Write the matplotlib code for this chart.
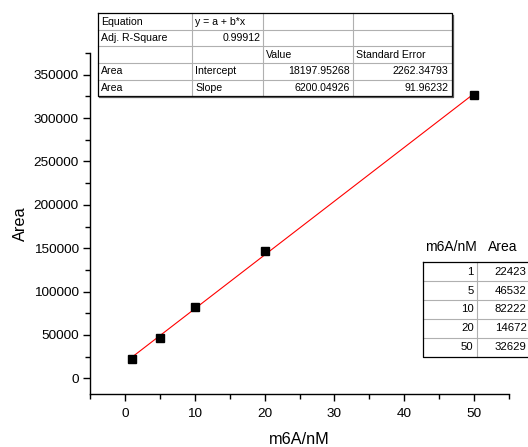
import matplotlib
matplotlib.use("Agg")
import matplotlib.pyplot as plt
import numpy as np
from matplotlib.ticker import MultipleLocator

plt.rcParams["font.family"] = ["Liberation Sans", "DejaVu Sans"]

# data
conc = [1, 5, 10, 20, 50]
area = [22423, 46532, 82222, 146720, 326290]

# linear fit results shown in the Origin table
fit_intercept = 18197.95268
fit_slope = 6200.04926
fit_intercept_err = 2262.34793
fit_slope_err = 91.96232
adj_r2 = 0.99912

W, H = 528, 447


def main():
    fig = plt.figure(figsize=(W / 100, H / 100), dpi=100)
    ax = fig.add_axes([90 / W, 1 - 394 / H, (509 - 90) / W, (394 - 53) / H])

    ax.plot(conc, area, "s", color="black", markersize=5.3, zorder=3)
    xf = np.array([min(conc), max(conc)])
    ax.plot(xf, fit_intercept + fit_slope * xf, color="red", lw=0.8, zorder=2)

    ax.set_xlim(-5, 55)
    ax.set_ylim(-18000, 375000)
    ax.xaxis.set_major_locator(MultipleLocator(10))
    ax.xaxis.set_minor_locator(MultipleLocator(5))
    ax.yaxis.set_major_locator(MultipleLocator(50000))
    ax.yaxis.set_minor_locator(MultipleLocator(25000))
    for s in ("top", "right"):
        ax.spines[s].set_visible(False)
    for s in ("left", "bottom"):
        ax.spines[s].set_linewidth(1.0)
    ax.tick_params(which="major", direction="out", length=5, width=1.0,
                   labelsize=9.7, pad=3)
    ax.tick_params(axis="x", which="major", pad=5)
    ax.tick_params(which="minor", direction="out", length=3.5, width=1.0)
    ax.set_xlabel("m6A/nM", fontsize=11.7, labelpad=9)
    ax.set_ylabel("Area", fontsize=11.7, labelpad=4)

    # overlay in pixel coordinates for the tables
    ov = fig.add_axes([0, 0, 1, 1])
    ov.set_xlim(0, W)
    ov.set_ylim(H, 0)
    ov.axis("off")

    def grid_table(cols, top, bottom, cells, aligns, fs):
        n = len(cells)
        rh = (bottom - top) / n
        for i in range(1, n):
            y = top + i * rh
            ov.plot([cols[0], cols[-1]], [y, y], color="#b0b0b0", lw=0.8)
        for c in cols[1:-1]:
            ov.plot([c, c], [top, bottom], color="#b0b0b0", lw=0.8)
        ov.plot([cols[0], cols[-1], cols[-1], cols[0], cols[0]],
                [top, top, bottom, bottom, top], color="black", lw=0.9)
        for r, row in enumerate(cells):
            yc = top + (r + 0.5) * rh
            for c, txt in enumerate(row):
                if not txt:
                    continue
                if aligns[r][c] == "left":
                    ov.text(cols[c] + 3, yc, txt, ha="left", va="center", fontsize=fs)
                else:
                    ov.text(cols[c + 1] - 3, yc, txt, ha="right", va="center", fontsize=fs)

    fit_cells = [
        ["Equation", "y = a + b*x", "", ""],
        ["Adj. R-Square", f"{adj_r2:.5f}", "", ""],
        ["", "", "Value", "Standard Error"],
        ["Area", "Intercept", f"{fit_intercept:.5f}", f"{fit_intercept_err:.5f}"],
        ["Area", "Slope", f"{fit_slope:.5f}", f"{fit_slope_err:.5f}"],
    ]
    fit_align = [
        ["left", "left", "left", "left"],
        ["left", "right", "left", "left"],
        ["left", "left", "left", "left"],
        ["left", "left", "right", "right"],
        ["left", "left", "right", "right"],
    ]
    grid_table([97.7, 192, 263.3, 353.3, 451.7], 13.3, 96.2, fit_cells, fit_align, 7.6)
    # drop shadow on the fit table
    ov.plot([99, 452.9, 452.9], [97.4, 97.4, 15], color="#555555", lw=0.9)

    data_cells = [[str(c), str(a)[:5]] for c, a in zip(conc, area)]
    data_align = [["right", "right"] for _ in conc]
    grid_table([422.7, 476.7, 529.5], 262.3, 356.5, data_cells, data_align, 8.2)
    ov.text(425.5, 247, "m6A/nM", ha="left", va="center", fontsize=10)
    ov.text(488, 247, "Area", ha="left", va="center", fontsize=10)

    fig.savefig("out.png", dpi=100)


if __name__ == "__main__":
    main()
